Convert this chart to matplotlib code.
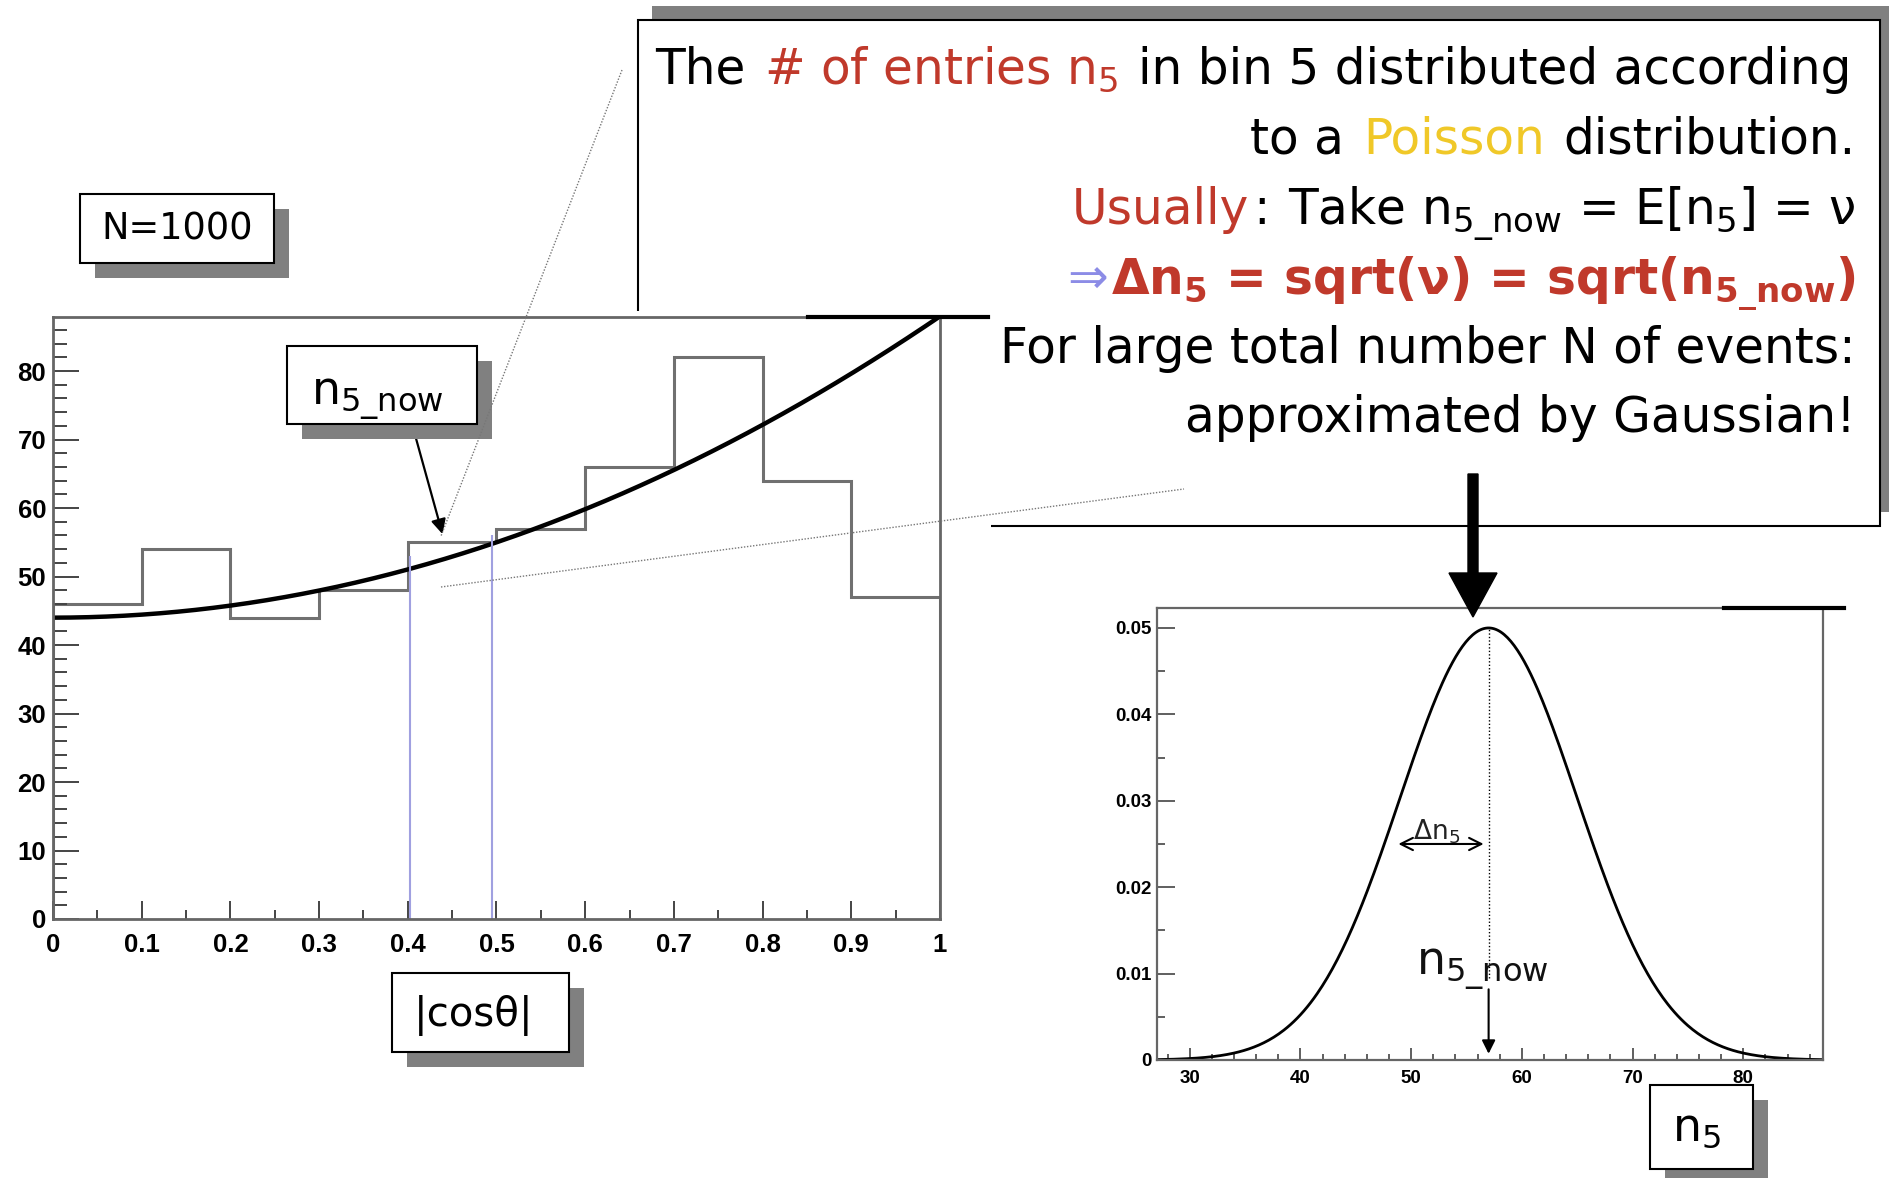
import numpy as np
import matplotlib
matplotlib.use('Agg')
import matplotlib.pyplot as plt
from matplotlib.patches import Rectangle, FancyArrow
from matplotlib.ticker import MultipleLocator

plt.rcParams['font.family'] = ['DejaVu Sans']
plt.rcParams['mathtext.fontset'] = 'dejavusans'
plt.rcParams['mathtext.default'] = 'regular'

# histogram of |cos theta|, N=1000
bin_edges = [0.0, 0.1, 0.2, 0.3, 0.4, 0.5, 0.6, 0.7, 0.8, 0.9, 1.0]
bin_counts = [46, 54, 44, 48, 55, 57, 66, 82, 64, 47]
fit_coeffs = [44, 0, 44]          # a + b*x + c*x^2
bin5_x = [0.403, 0.495]
bin5_top = [53, 56]
bin5_mark = (0.44, 55.8)           # where the n5_now arrow points

# gaussian approximation of n5
gauss_mean = 57
gauss_sigma = 8
gauss_peak = 0.05
n5_lo, n5_hi = 27.05, 87.2
delta_n5 = (48.6, 56.8)

RED = '#c0392b'
YELLOW = '#f0c828'
PURPLE = '#8c8ce6'
TICKFONT = 'Liberation Sans'

W, H = 1890, 1178
fig = plt.figure(figsize=(W / 100, H / 100), dpi=100)


def page_axes(z):
    a = fig.add_axes([0, 0, 1, 1], zorder=z)
    a.set_xlim(0, W)
    a.set_ylim(H, 0)
    a.axis('off')
    return a


def shadow_box(a, x0, y0, x1, y1, dx=15, dy=15):
    a.add_patch(Rectangle((x0 + dx, y0 + dy), x1 - x0, y1 - y0, fc='#808080', ec='none'))
    a.add_patch(Rectangle((x0, y0), x1 - x0, y1 - y0, fc='white', ec='black', lw=1.5))


def px_axes(x0, y0, x1, y1, z=1):
    return fig.add_axes([x0 / W, 1 - y1 / H, (x1 - x0) / W, (y1 - y0) / H], zorder=z)


bg = page_axes(0)
fg = page_axes(5)

# big text box (behind the histogram pad)
shadow_box(bg, 638, 20, 1880, 526, dx=14, dy=-14)
bg.add_patch(Rectangle((0, 311), 991, H - 311, fc='white', ec='none'))

# ---- left: histogram ----
ax1 = px_axes(53, 317, 940, 919)
ax1.stairs(bin_counts, bin_edges, baseline=0, color='#707070', lw=2.2)
xs = np.linspace(0, 1, 300)
ax1.plot(xs, np.polyval(fit_coeffs[::-1], xs), color='black', lw=3.2)
ax1.vlines(bin5_x, 0, bin5_top, color='#a0a0e0', lw=1.5)
ax1.set_xlim(0, 1)
ax1.set_ylim(0, 87.9)
ax1.set_xticks(np.arange(0, 1.01, 0.1))
ax1.set_xticklabels(['0', '0.1', '0.2', '0.3', '0.4', '0.5', '0.6', '0.7', '0.8', '0.9', '1'])
ax1.xaxis.set_minor_locator(MultipleLocator(0.05))
ax1.set_yticks(range(0, 81, 10))
ax1.yaxis.set_minor_locator(MultipleLocator(2))
ax1.tick_params(axis='y', which='major', direction='in', length=19, width=1.4, pad=5,
                labelsize=18.5, color='#444')
ax1.tick_params(axis='y', which='minor', direction='in', length=10, width=1.4, color='#444')
ax1.tick_params(axis='x', which='major', direction='in', length=13, width=1.4, pad=10,
                labelsize=18.5, color='#444')
ax1.tick_params(axis='x', which='minor', direction='in', length=6.5, width=1.4, color='#444')
for s in ax1.spines.values():
    s.set_color('#666')
    s.set_linewidth(2)
ax1.annotate('', xy=bin5_mark, xytext=(412 / W, 1 - 424 / H), textcoords='figure fraction',
             arrowprops=dict(arrowstyle='-|>', color='black', lw=1.6, mutation_scale=22))

# ---- right: gaussian ----
ax2 = px_axes(1157, 608, 1823, 1060)
xg = np.linspace(n5_lo, n5_hi, 400)
ax2.plot(xg, gauss_peak * np.exp(-0.5 * ((xg - gauss_mean) / gauss_sigma) ** 2), color='black', lw=2)
ax2.plot([gauss_mean, gauss_mean], [0.0095, gauss_peak], color='black', lw=1, ls=(0, (1, 1.5)))
ax2.annotate('', xy=(gauss_mean, 0.0004), xytext=(gauss_mean, 0.0085),
             arrowprops=dict(arrowstyle='-|>', color='black', lw=1.5, mutation_scale=20))
ax2.annotate('', xy=(delta_n5[0], 0.025), xytext=(delta_n5[1], 0.025),
             arrowprops=dict(arrowstyle='<->', color='black', lw=1.5, mutation_scale=22))
ax2.text(50.2, 0.0255, r'$\Delta n_5$', fontsize=19, color='#222')
ax2.text(50.4, 0.0099, r'n$_{5\_now}$', fontsize=33, color='#111')
ax2.set_xlim(n5_lo, n5_hi)
ax2.set_ylim(0, 0.05231)
ax2.set_xticks(range(30, 81, 10))
ax2.xaxis.set_minor_locator(MultipleLocator(2))
ax2.set_yticks([0, 0.01, 0.02, 0.03, 0.04, 0.05])
ax2.set_yticklabels(['0', '0.01', '0.02', '0.03', '0.04', '0.05'])
ax2.yaxis.set_minor_locator(MultipleLocator(0.005))
ax2.tick_params(axis='y', which='major', direction='in', length=13, width=1.2, pad=4,
                labelsize=13.5, color='#444')
ax2.tick_params(axis='y', which='minor', direction='in', length=6, width=1.2, color='#444')
ax2.tick_params(axis='x', which='major', direction='in', length=9, width=1.2, pad=7,
                labelsize=13.5, color='#444')
ax2.tick_params(axis='x', which='minor', direction='in', length=4.5, width=1.2, color='#444')
for s in ax2.spines.values():
    s.set_color('#666')
    s.set_linewidth(1.6)

for a in (ax1, ax2):
    for lab in a.get_xticklabels() + a.get_yticklabels():
        lab.set_fontfamily(TICKFONT)
        lab.set_fontweight('bold')

# ---- overlay: boxes, guide lines, arrow ----
fg.plot([808, 988], [317, 317], color='black', lw=3)
fg.plot([1724, 1844], [608, 608], color='black', lw=3)
fg.plot([622, 441], [70, 536], color='#777', lw=1, ls=(0, (1, 1.2)))
fg.plot([441, 1184], [587, 489], color='#777', lw=1, ls=(0, (1, 1.2)))
fg.add_patch(FancyArrow(1473, 474, 0, 143, width=10, head_width=48, head_length=44,
                        length_includes_head=True, color='black'))

shadow_box(fg, 80, 194, 274, 263)
fg.text(177, 229, 'N=1000', fontsize=26.5, ha='center', va='center')
shadow_box(fg, 287, 346, 477, 424)
fg.text(311, 404, r'n$_{5\_now}$', fontsize=33, va='baseline')
shadow_box(fg, 392, 973, 569, 1052)
fg.text(474, 1015, '|cos\u03b8|', fontsize=29, ha='center', va='center')
shadow_box(fg, 1650, 1085, 1753, 1169)
fg.text(1672, 1140, r'n$_5$', fontsize=33, va='baseline')

# ---- multi-coloured text lines ----
fig.canvas.draw()
rend = fig.canvas.get_renderer()


def text_width(s, **kw):
    t = fig.text(0, 0, s, **kw)
    w = t.get_window_extent(rend).width
    t.remove()
    return w


def text_line(pieces, x, y, size, right=False):
    space = text_width('n n', size=size) - text_width('nn', size=size)
    gap = 0.1 * size
    parts = []
    cur = 0
    for s, color, weight in pieces:
        lead = len(s) - len(s.lstrip(' '))
        trail = len(s) - len(s.rstrip(' '))
        core = s.strip(' ')
        cur += lead * space
        parts.append((cur, core, color, weight))
        cur += text_width(core, size=size, weight=weight) + trail * space + gap
    total = cur - gap
    x0 = x - total if right else x
    for off, core, color, weight in parts:
        fig.text((x0 + off) / W, 1 - y / H, core, size=size, color=color, weight=weight,
                 va='baseline', zorder=6)


FS = 35
text_line([('The ', 'black', 'normal'), ('# of entries n$_5$', RED, 'normal'),
           (' in bin 5 distributed according', 'black', 'normal')], 655, 84, FS)
text_line([('to a ', 'black', 'normal'), ('Poisson', YELLOW, 'normal'),
           (' distribution.', 'black', 'normal')], 1856, 154, FS, right=True)
text_line([('Usually', RED, 'normal'), (':', 'black', 'normal'),
           (' Take n$_{5\\_now}$ = E[n$_5$] = \u03bd', 'black', 'normal')], 1856, 224, FS, right=True)
text_line([('\u21d2', PURPLE, 'normal'),
           ('\u0394n$_5$ = sqrt(\u03bd) = sqrt(n$_{5\\_now}$)', RED, 'bold')], 1856, 294, FS, right=True)
text_line([('For large total number N of events:', 'black', 'normal')], 1856, 363, FS, right=True)
text_line([('approximated by Gaussian!', 'black', 'normal')], 1856, 432, FS, right=True)

fig.savefig('out.png', dpi=100)
